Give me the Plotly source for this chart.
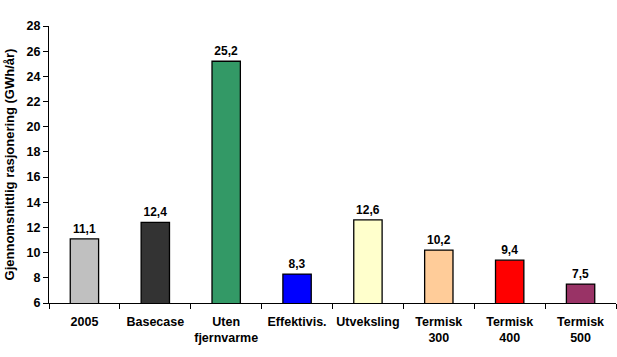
import plotly.graph_objects as go

categories = ["2005", "Basecase", "Uten<br>fjernvarme", "Effektivis.", "Utveksling",
              "Termisk<br>300", "Termisk<br>400", "Termisk<br>500"]
values = [11.1, 12.4, 25.2, 8.3, 12.6, 10.2, 9.4, 7.5]
value_labels = ["11,1", "12,4", "25,2", "8,3", "12,6", "10,2", "9,4", "7,5"]
colors = ["#C0C0C0", "#333333", "#339966", "#0000FF", "#FFFFCC", "#FFCC99", "#FF0000", "#993366"]
y_ticks = list(range(6, 29, 2))

font = "Arial, Liberation Sans, sans-serif"

fig = go.Figure(go.Bar(
    x=categories, y=values,
    marker=dict(color=colors, line=dict(color="black", width=1.3)),
    text=value_labels, textposition="outside", cliponaxis=False,
    textfont=dict(family=font, size=12, color="black", weight="bold"),
))

fig.update_layout(
    width=617, height=357,
    margin=dict(l=49, r=1, t=26, b=54),
    paper_bgcolor="white", plot_bgcolor="white",
    bargap=0.6, showlegend=False,
    font=dict(family=font, size=12, color="black"),
    xaxis=dict(
        type="category", tickson="boundaries", automargin=False, tickangle=0,
        showline=True, linecolor="black", linewidth=1,
        ticks="outside", ticklen=5, tickcolor="black", ticklabelstandoff=7,
        tickfont=dict(family=font, size=12.5, color="black", weight="bold"),
        showgrid=False,
    ),
    yaxis=dict(
        range=[6, 28], tickvals=y_ticks, automargin=False,
        showline=True, linecolor="black", linewidth=1,
        ticks="outside", ticklen=5, tickcolor="black",
        tickfont=dict(family=font, size=12.5, color="black", weight="bold"),
        showgrid=False, zeroline=False,
        title=dict(text="Gjennomsnittlig rasjonering (GWh/år)",
                   font=dict(family=font, size=13, color="black", weight="bold"),
                   standoff=9),
    ),
)

fig.write_html("out.html", config={"displayModeBar": False},
               post_script="document.body.style.margin='0';")
